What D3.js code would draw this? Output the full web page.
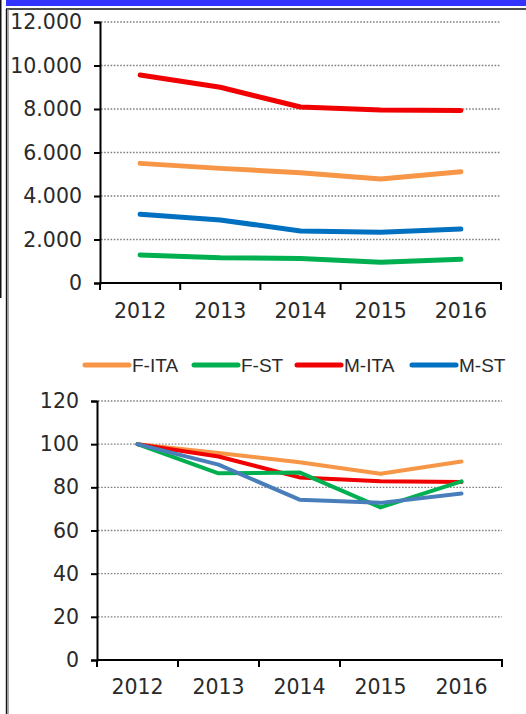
<!DOCTYPE html>
<html>
<head>
<meta charset="utf-8">
<script src="https://cdn.jsdelivr.net/npm/d3@7"></script>
<style>
  html, body { margin: 0; padding: 0; background: #fff; }
  svg { display: block; }
  text { font-family: "DejaVu Sans", Arial, sans-serif; fill: #2a2a2a; }
</style>
</head>
<body>
<svg id="chart" width="526" height="714"></svg>
<script>
// Years on the x axis
const years = ["2012", "2013", "2014", "2015", "2016"];
const seriesNames = ["F-ITA", "F-ST", "M-ITA", "M-ST"];
const seriesColors = ["#f79646", "#00b050", "#f00000", "#0070c0"];
const indexColors = ["#f79646", "#00b050", "#f00000", "#4a7ebb"];

// Absolute counts
const absFITA = [5500, 5270, 5070, 4780, 5120];
const absFST  = [1290, 1160, 1130, 950, 1090];
const absMITA = [9560, 9000, 8090, 7950, 7930];
const absMST  = [3160, 2900, 2390, 2330, 2480];

// Index (2012 = 100)
const idxFITA = [100, 95.9, 91.6, 86.3, 92.0];
const idxFST  = [100, 86.5, 86.9, 70.7, 82.8];
const idxMITA = [100, 94.3, 84.6, 82.8, 82.5];
const idxMST  = [100, 90.5, 74.3, 72.8, 77.1];

const topTicks = [0, 2000, 4000, 6000, 8000, 10000, 12000];
const bottomTicks = [0, 20, 40, 60, 80, 100, 120];

const itLocale = d3.formatLocale({ decimal: ",", thousands: ".", grouping: [3], currency: ["€", ""] });
const fmtThousands = itLocale.format(",");

const FONT = "'DejaVu Sans', Arial, sans-serif";
const LEGEND_FONT = "'Liberation Sans', Arial, sans-serif";
const svg = d3.select("#chart");

// Frame decorations
svg.append("rect").attr("x", 6).attr("y", 0).attr("width", 520).attr("height", 6).attr("fill", "#3333ff");
svg.append("line").attr("x1", 6).attr("x2", 526).attr("y1", 9).attr("y2", 9).attr("stroke", "#111").attr("stroke-width", 1.5);
svg.append("line").attr("x1", 0.75).attr("x2", 0.75).attr("y1", 0).attr("y2", 298).attr("stroke", "#111").attr("stroke-width", 1.5);
svg.append("line").attr("x1", 6.5).attr("x2", 6.5).attr("y1", 9).attr("y2", 714).attr("stroke", "#111").attr("stroke-width", 1.4);
svg.append("line").attr("x1", 8).attr("x2", 8).attr("y1", 9).attr("y2", 714).attr("stroke", "#888").attr("stroke-width", 1.4);

function drawPanel(opts) {
  const g = svg.append("g");
  const x = d3.scaleBand().domain(years).range([opts.x0, opts.x1]);
  const y = d3.scaleLinear().domain([0, opts.max]).range([opts.y0, opts.y1]);

  // gridlines
  g.selectAll("line.grid").data(opts.ticks.filter(t => t > 0)).join("line")
    .attr("x1", opts.x0 + 1).attr("x2", opts.x1)
    .attr("y1", d => y(d)).attr("y2", d => y(d))
    .attr("stroke", "#808080").attr("stroke-width", 1.4).attr("stroke-dasharray", "1.6,1.6");

  // y axis
  const yAxis = d3.axisLeft(y).tickValues(opts.ticks).tickSize(6).tickPadding(12).tickFormat(opts.fmt);
  const ga = g.append("g").attr("transform", `translate(${opts.x0},0)`).call(yAxis);
  ga.select(".domain").attr("stroke", "#000").attr("stroke-width", 2);
  ga.selectAll(".tick line").attr("stroke", "#000").attr("stroke-width", 2);
  ga.selectAll(".tick text").attr("font-size", 20.5).attr("fill", "#2a2a2a").style("font-family", FONT);

  // x axis
  const xAxis = d3.axisBottom(x).tickSize(0).tickPadding(opts.xPad);
  const gx = g.append("g").attr("transform", `translate(0,${opts.y0})`).call(xAxis);
  gx.select(".domain").attr("stroke", "#000").attr("stroke-width", 2).attr("d", `M${opts.x0},0H${opts.x1}V7`);
  gx.selectAll(".tick text").attr("font-size", 20.5).attr("fill", "#2a2a2a").style("font-family", FONT);
  // tick marks at band boundaries
  g.selectAll("line.xtick").data(years.slice(0, -1)).join("line")
    .attr("x1", d => x(d)).attr("x2", d => x(d))
    .attr("y1", opts.y0).attr("y2", opts.y0 + 7)
    .attr("stroke", "#000").attr("stroke-width", 2);

  const line = d3.line().x((d, i) => x(years[i]) + x.bandwidth() / 2).y(d => y(d));
  opts.series.forEach((vals, k) => {
    g.append("path").datum(vals).attr("d", line)
      .attr("fill", "none").attr("stroke", opts.colors[k])
      .attr("stroke-width", opts.lw).attr("stroke-linejoin", "round").attr("stroke-linecap", "round");
  });
}

drawPanel({
  x0: 100, x1: 501, y0: 283, y1: 22, max: 12000, ticks: topTicks, fmt: fmtThousands,
  series: [absMITA, absFITA, absMST, absFST],
  colors: [seriesColors[2], seriesColors[0], seriesColors[3], seriesColors[1]],
  lw: 5, xPad: 20
});

drawPanel({
  x0: 97, x1: 502, y0: 660, y1: 401, max: 120, ticks: bottomTicks, fmt: d3.format("d"),
  series: [idxFITA, idxMITA, idxFST, idxMST],
  colors: [indexColors[0], indexColors[2], indexColors[1], indexColors[3]],
  lw: 4, xPad: 19
});

// Legend
const legendItems = [
  { name: seriesNames[0], color: seriesColors[0], lx: 83 },
  { name: seriesNames[1], color: seriesColors[1], lx: 192 },
  { name: seriesNames[2], color: seriesColors[2], lx: 295 },
  { name: seriesNames[3], color: seriesColors[3], lx: 410 }
];
const lg = svg.append("g");
legendItems.forEach(it => {
  lg.append("line").attr("x1", it.lx + 2).attr("x2", it.lx + 46).attr("y1", 365).attr("y2", 365)
    .attr("stroke", it.color).attr("stroke-width", 5).attr("stroke-linecap", "round");
  lg.append("text").attr("x", it.lx + 49).attr("y", 372).attr("font-size", 19)
    .style("font-family", LEGEND_FONT).text(it.name);
});
</script>
</body>
</html>
